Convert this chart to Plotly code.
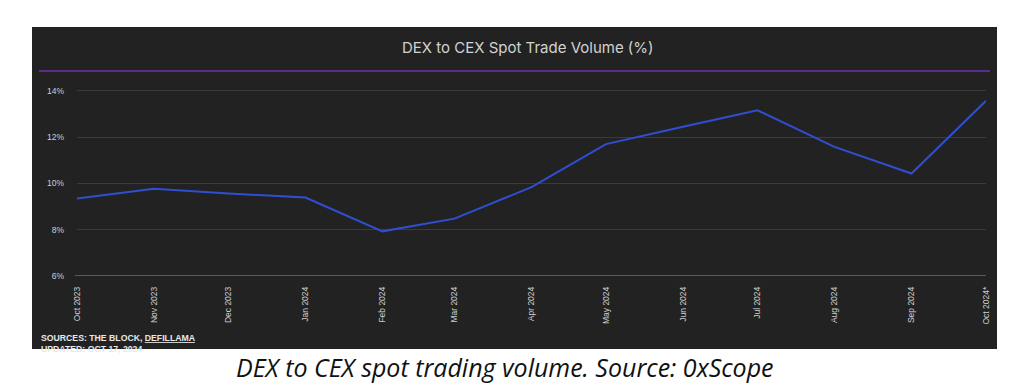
import plotly.graph_objects as go

months = ["2023-10-01", "2023-11-01", "2023-12-01", "2024-01-01", "2024-02-01", "2024-03-01",
          "2024-04-01", "2024-05-01", "2024-06-01", "2024-07-01", "2024-08-01", "2024-09-01",
          "2024-10-01"]
month_labels = ["Oct 2023", "Nov 2023", "Dec 2023", "Jan 2024", "Feb 2024", "Mar 2024",
                "Apr 2024", "May 2024", "Jun 2024", "Jul 2024", "Aug 2024", "Sep 2024",
                "Oct 2024*"]
dex_cex_pct = [9.35, 9.77, 9.57, 9.39, 7.93, 8.48, 9.84, 11.70, 12.45, 13.16, 11.58, 10.43, 13.57]
y_ticks = [6, 8, 10, 12, 14]
y_tick_labels = ["6%", "8%", "10%", "12%", "14%"]

W, H = 1024, 392
ML, MR, MT, MB = 77, 38, 77, 116
PW = W - ML - MR
PH = H - MT - MB

def px(x):
    return (x - ML) / PW

def py(y):
    return (H - MB - y) / PH

fig = go.Figure()
fig.add_trace(go.Scatter(
    x=months, y=dex_cex_pct, mode="lines",
    line=dict(color="#2f4fd2", width=2),
    hoverinfo="skip", showlegend=False,
))

fig.update_layout(
    width=W, height=H,
    margin=dict(l=ML, r=MR, t=MT, b=MB),
    paper_bgcolor="white",
    plot_bgcolor="#222222",
    font=dict(family="Liberation Sans, Arial", color="#c8c8c8"),
    xaxis=dict(
        type="date",
        range=[months[0], months[-1]],
        tickvals=months, ticktext=month_labels,
        tickangle=-90,
        tickfont=dict(size=8.5, color="#cfcfcf"),
        showgrid=False, zeroline=False,
        showline=False,
        ticks="",
        ticklabelstandoff=8,
    ),
    yaxis=dict(
        range=[6, 14.6],
        tickvals=y_ticks, ticktext=y_tick_labels,
        tickfont=dict(size=8.5, color="#cfcfcf"),
        showgrid=True, gridcolor="#3b3b3b", gridwidth=1,
        zeroline=False, showline=False, ticks="",
        ticklabelstandoff=12,
    ),
    shapes=[
        dict(type="rect", xref="paper", yref="paper",
             x0=px(32), x1=px(997), y0=py(349), y1=py(27),
             fillcolor="#222222", line=dict(color="#222222", width=0), layer="below"),
        dict(type="line", xref="paper", yref="paper",
             x0=px(39), x1=px(990), y0=py(71), y1=py(71),
             line=dict(color="#5b2a8a", width=2), layer="above"),
        dict(type="line", xref="paper", yref="y",
             x0=px(75), x1=1.0, y0=6, y1=6,
             line=dict(color="#6e6e6e", width=1.5), layer="above"),
    ],
    annotations=[
        dict(text="DEX to CEX Spot Trade Volume (%)", xref="paper", yref="paper",
             x=px(528), y=py(47), xanchor="center", yanchor="middle", showarrow=False,
             font=dict(family="Inter", size=15, color="#d2d2d2")),
        dict(text="<b>SOURCES: THE BLOCK, <u>DEFILLAMA</u></b><br><b>UPDATED: OCT 17, 2024</b>",
             xref="paper", yref="paper", x=px(39), y=py(331), xanchor="left", yanchor="top",
             align="left", showarrow=False,
             font=dict(family="Liberation Sans, Arial", size=8.7, color="#e8e8e8")),
        dict(text="<i>DEX to CEX spot trading volume. Source: 0xScope</i>",
             xref="paper", yref="paper", x=px(505), y=py(367), xanchor="center", yanchor="middle",
             showarrow=False,
             font=dict(family="Open Sans", size=25, color="#111111")),
    ],
)

fig.write_html("out.html", config={"displayModeBar": False},
               post_script="document.body.style.margin='0';")
